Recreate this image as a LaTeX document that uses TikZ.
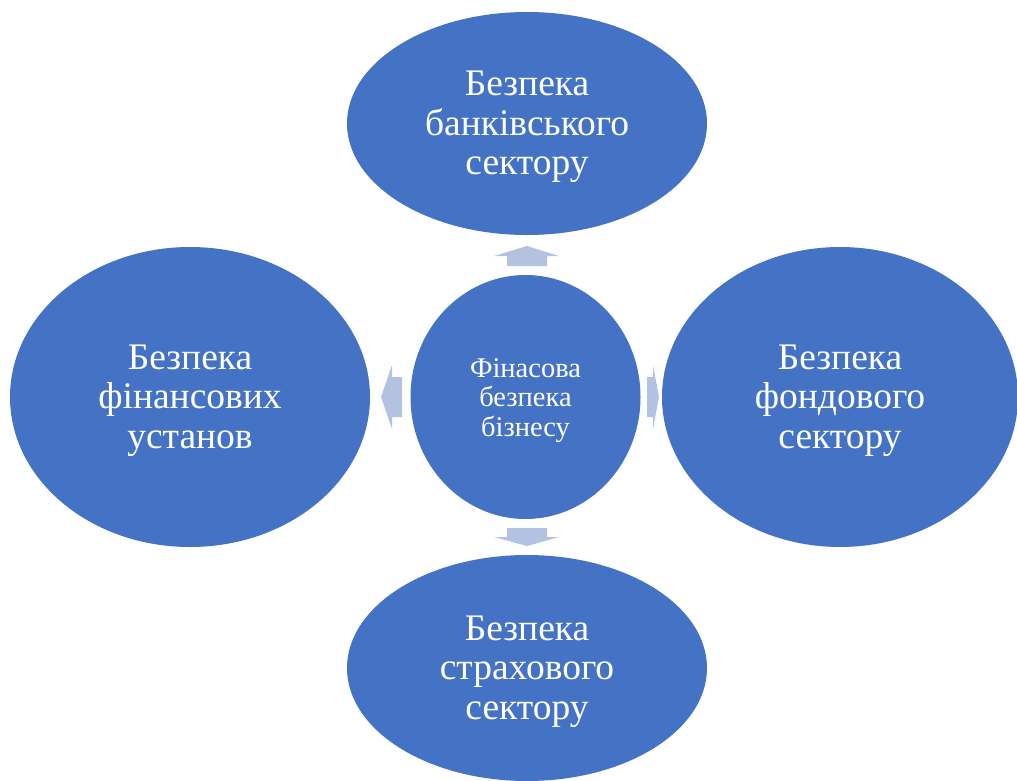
\documentclass[tikz,border=0pt]{standalone}
\usepackage{fontspec}
\setmainfont{Liberation Serif}
\usetikzlibrary{shapes.geometric}
\definecolor{blobblue}{HTML}{4472C4}
\definecolor{arrowblue}{HTML}{B4C2E1}
\newcommand\lowlines[1]{\raisebox{-4pt}[\height][\depth]{\begin{tabular}{@{}c@{}}#1\end{tabular}}}
\tikzset{
  blob/.style={ellipse, fill=blobblue, draw=none, text=white, inner sep=0pt,
    font=\fontsize{37.5}{39.5}\selectfont},
  hub/.style={blob, font=\fontsize{28.5}{29.5}\selectfont},
  blockarrow/.style={fill=arrowblue, draw=none}
}
\begin{document}
\begin{tikzpicture}[x=1pt,y=-1pt]
\useasboundingbox (0,0) rectangle (1017,780);
% block arrows
\coordinate (upA) at (527,246);
\fill[blockarrow] (upA) -- (559,256) -- (547,256) -- (547,266) -- (507,266) -- (507,256) -- (494,256) -- cycle;
\coordinate (downA) at (527,546);
\fill[blockarrow] (downA) -- (559,537) -- (547,537) -- (547,528) -- (507,528) -- (507,537) -- (494,537) -- cycle;
\coordinate (leftA) at (381,397);
\fill[blockarrow] (leftA) -- (392,365) -- (392,377) -- (402,377) -- (402,417) -- (392,417) -- (392,429) -- cycle;
\coordinate (rightA) at (659,397);
\fill[blockarrow] (rightA) -- (653,365) -- (653,377) -- (647,377) -- (647,417) -- (653,417) -- (653,429) -- cycle;
% ellipses
\node[hub, minimum width=230pt, minimum height=244pt] (hub) at (525.5,397) {\lowlines{Фінасова\\безпека\\бізнесу}};
\node[blob, minimum width=360pt, minimum height=223pt] (top) at (527,123.5) {\lowlines{Безпека\\банківського\\сектору}};
\node[blob, minimum width=360pt, minimum height=300pt] (left) at (190,397) {\lowlines{Безпека\\фінансових\\установ}};
\node[blob, minimum width=356pt, minimum height=300pt] (right) at (840,397) {\lowlines{Безпека\\фондового\\сектору}};
\node[blob, minimum width=360pt, minimum height=226pt] (bottom) at (527,668) {\lowlines{Безпека\\страхового\\сектору}};
\end{tikzpicture}
\end{document}
